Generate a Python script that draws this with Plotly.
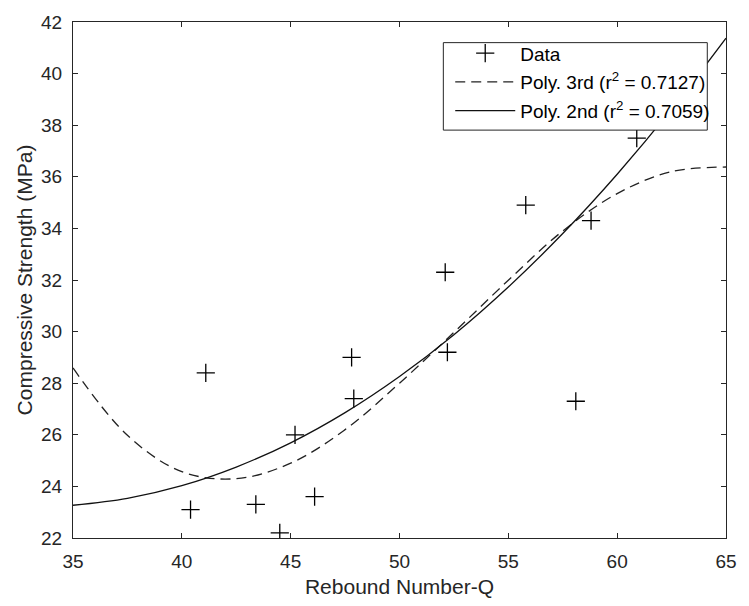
import plotly.graph_objects as go

# Measured data (Rebound Number-Q vs Compressive Strength)
rebound = [40.4, 41.1, 43.4, 44.5, 45.2, 46.1, 47.8, 47.9, 52.1, 52.2, 55.8, 58.1, 58.8, 60.9]
strength = [23.1, 28.4, 23.3, 22.2, 26.0, 23.6, 29.0, 27.4, 32.3, 29.2, 34.9, 27.3, 34.3, 37.5]

# Fitted curves
fit_x = [35, 37.5, 40, 42.5, 45, 47.5, 50, 52.5, 55, 57.5, 60, 62.5, 65]
poly3_y = [28.59, 25.98, 24.57, 24.30, 24.90, 26.20, 28.00, 29.97, 31.99, 33.90, 35.35, 36.20, 36.38]
poly2_y = [23.27, 23.54, 24.03, 24.75, 25.69, 26.86, 28.26, 29.88, 31.73, 33.80, 36.10, 38.62, 41.37]

labels = ["Data", "Poly. 3rd (r<sup>2</sup> = 0.7127)", "Poly. 2nd (r<sup>2</sup> = 0.7059)"]

FONT = "Liberation Sans, Arial, sans-serif"
AX = "#262626"

# plot area in pixels: x 73..736, y 16..541
PL, PR, PT, PB = 73, 736, 16, 541
def px(x):
    return (x - PL) / (PR - PL)
def py(y):
    return (PB - y) / (PB - PT)

fig = go.Figure()
fig.add_trace(go.Scatter(
    x=rebound, y=strength, mode="markers", name=labels[0], legendgroup="a",
    marker=dict(symbol="cross-thin", size=13, color="black",
                line=dict(color="black", width=1.3)),
))
fig.add_trace(go.Scatter(
    x=fit_x, y=poly3_y, mode="lines", name=labels[1], legendgroup="b",
    line=dict(color="#222222", width=1.3, dash="10px,6px", shape="spline", smoothing=1.0),
))
fig.add_trace(go.Scatter(
    x=fit_x, y=poly2_y, mode="lines", name=labels[2], legendgroup="c",
    line=dict(color="#111111", width=1.3, shape="spline", smoothing=1.0),
))

axis_common = dict(
    showline=True, linecolor=AX, linewidth=1, mirror="ticks",
    ticks="inside", ticklen=5, tickcolor=AX, tickwidth=1,
    showgrid=False, zeroline=False,
    tickfont=dict(family=FONT, size=19, color=AX),
)

fig.update_layout(
    width=749, height=606,
    margin=dict(l=PL, r=749 - PR, t=PT, b=606 - PB),
    paper_bgcolor="white", plot_bgcolor="white",
    showlegend=True,
    legend=dict(
        x=px(456), y=py(28.5), xanchor="left", yanchor="top",
        bgcolor="rgba(0,0,0,0)", borderwidth=0,
        font=dict(family=FONT, size=19, color="black"),
        tracegroupgap=1, itemwidth=60,
    ),
    shapes=[dict(
        type="rect", xref="paper", yref="paper", layer="above",
        x0=px(449), x1=px(717), y0=py(126), y1=py(37),
        fillcolor="white", line=dict(color=AX, width=1),
    )],
    xaxis=dict(
        range=[35, 65], tickvals=[35, 40, 45, 50, 55, 60, 65],
        title=dict(text="Rebound Number-Q", font=dict(family=FONT, size=21, color=AX), standoff=8),
        ticklabelstandoff=6,
        **axis_common,
    ),
    yaxis=dict(
        range=[22, 42], tickvals=list(range(22, 43, 2)),
        title=dict(text="Compressive Strength (MPa)", font=dict(family=FONT, size=21, color=AX), standoff=2),
        ticklabelstandoff=6,
        **axis_common,
    ),
)

fig.write_html("out.html")
